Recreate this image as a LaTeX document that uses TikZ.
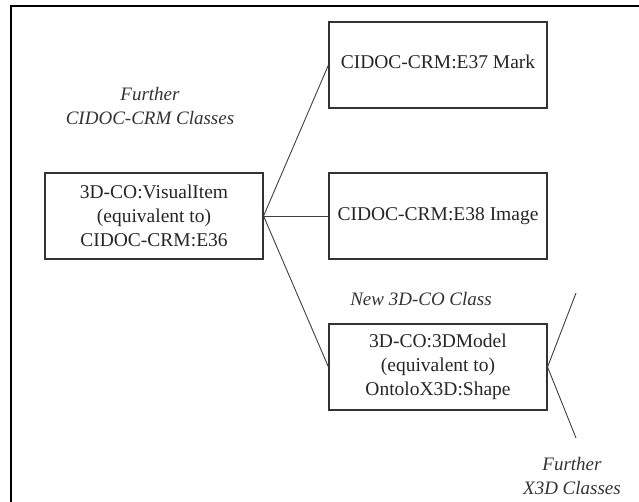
\documentclass[tikz,border=0pt]{standalone}
\usepackage{fontspec}
\setmainfont{Liberation Serif}
\begin{document}
\begin{tikzpicture}[x=1pt,y=-1pt,
  cls/.style={draw=black!80, line width=1.1pt, minimum width=218pt, minimum height=86pt,
    inner sep=0pt, align=center, font=\fontsize{19.5}{24}\selectfont, text=black!85},
  lbl/.style={align=center, inner sep=0pt, font=\fontsize{19}{24}\selectfont\itshape, text=black!80},
  conn/.style={draw=black!75, line width=0.9pt}]
\useasboundingbox (0,0) rectangle (639,502);
\fill[white] (0,0) rectangle (639,502);
% outer frame (cut at right and bottom)
\draw[line width=2.8pt, black] (11,502) -- (11,6) -- (639,6);
% class boxes
\node[cls] (vi) at (154,216) {3D-CO:VisualItem\\(equivalent to)\\CIDOC-CRM:E36};
\node[cls, text depth=6pt] (mark) at (438,65) {CIDOC-CRM:E37 Mark};
\node[cls] (image) at (438,216) {CIDOC-CRM:E38 Image};
\node[cls] (model) at (438,367) {3D-CO:3DModel\\(equivalent to)\\OntoloX3D:Shape};
% free ends
\coordinate (up) at (576,293);
\coordinate (down) at (576,438);
% connectors
\draw[conn] (vi.east) -- (mark.west);
\draw[conn] (vi.east) -- (image.west);
\draw[conn] (vi.east) -- (model.west);
\draw[conn] (up) -- (model.east) -- (down);
% labels
\node[lbl] (lcrm) at (150,106) {Further\\CIDOC-CRM Classes};
\node[lbl] (lnew) at (421,299) {New 3D-CO Class};
\node[lbl] (lx3d) at (572,476) {Further\\X3D Classes};
\end{tikzpicture}
\end{document}
